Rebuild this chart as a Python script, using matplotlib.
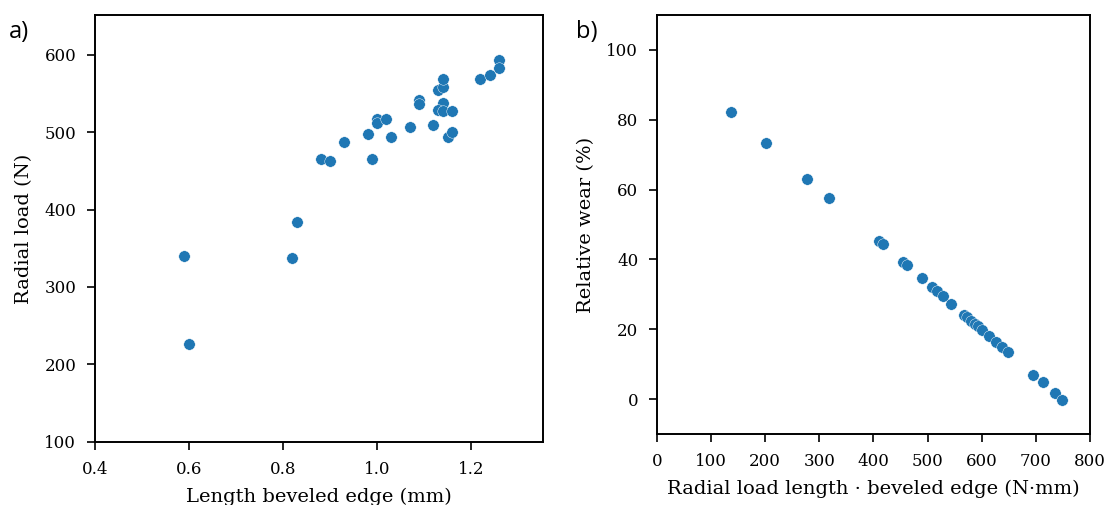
import numpy as np
import matplotlib.pyplot as plt

# panel a: length of beveled edge (mm) vs radial load (N)
length_mm = [0.59, 0.60, 0.82, 0.83, 0.88, 0.90, 0.93, 0.98, 0.99, 1.00,
             1.00, 1.02, 1.03, 1.07, 1.09, 1.09, 1.12, 1.13, 1.14, 1.14,
             1.14, 1.13, 1.14, 1.16, 1.15, 1.16, 1.22, 1.24, 1.26, 1.26]
load_n = [340, 227, 338, 384, 465, 463, 487, 498, 465, 517,
          512, 517, 493, 507, 541, 536, 509, 554, 558, 568,
          537, 528, 527, 527, 493, 500, 569, 574, 593, 582]

# panel b: load * length (N*mm) vs relative wear (%)
load_len = [136, 201, 278, 318, 410, 418, 454, 462, 490, 509,
            517, 529, 544, 567, 573, 581, 588, 594, 601, 614,
            627, 638, 649, 695, 713, 735, 749]
wear_pct = [82.1, 73.3, 62.9, 57.5, 45.3, 44.3, 39.4, 38.3, 34.8, 32.1,
            30.9, 29.5, 27.3, 24.1, 23.5, 22.3, 21.6, 20.8, 19.8, 18.2,
            16.3, 15.0, 13.4, 6.9, 4.8, 1.7, -0.2]

plt.rcParams['font.family'] = 'DejaVu Serif'

fig = plt.figure(figsize=(11.07, 5.05), dpi=100)
ax1 = fig.add_axes([0.0858, 0.1248, 0.4047, 0.8455])
ax2 = fig.add_axes([0.5935, 0.1406, 0.3911, 0.8297])

col = '#1f77b4'
ax1.scatter(length_mm, load_n, s=68, color=col, edgecolor='white', linewidth=0.3, zorder=3)
ax2.scatter(load_len, wear_pct, s=68, color=col, edgecolor='white', linewidth=0.3, zorder=3)

ax1.set_xlim(0.4, 1.353)
ax1.set_ylim(100, 651)
ax1.set_xticks([0.4, 0.6, 0.8, 1.0, 1.2])
ax1.set_yticks([100, 200, 300, 400, 500, 600])
ax1.set_xlabel('Length beveled edge (mm)', fontsize=14, labelpad=7)
ax1.set_ylabel('Radial load (N)', fontsize=14, labelpad=8)

ax2.set_xlim(0, 800)
ax2.set_ylim(-10, 110)
ax2.set_xticks(np.arange(0, 801, 100))
ax2.set_yticks([0, 20, 40, 60, 80, 100])
ax2.set_xlabel('Radial load length \u00b7 beveled edge (N\u00b7mm)', fontsize=14, labelpad=7)
ax2.set_ylabel('Relative wear (%)', fontsize=14, labelpad=8)

for ax in (ax1, ax2):
    for sp in ax.spines.values():
        sp.set_linewidth(1.4)
    ax.tick_params(direction='out', length=6, width=1.2, pad=7.5, labelsize=12)

fig.text(0.008, 0.925, 'a)', fontsize=17, family='Open Sans')
fig.text(0.520, 0.925, 'b)', fontsize=17, family='Open Sans')

fig.savefig('out.png', dpi=100)
